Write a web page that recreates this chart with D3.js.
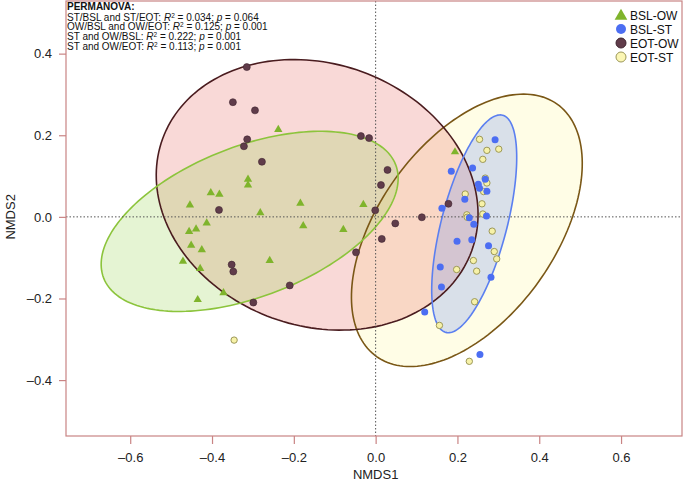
<!DOCTYPE html>
<html>
<head>
<meta charset="utf-8">
<script src="https://cdn.jsdelivr.net/npm/d3@7"></script>
<style>
  body { margin: 0; background: #fff; }
  svg { font-family: "Liberation Sans", Arial, Helvetica, sans-serif; display: block; }
</style>
</head>
<body>
<div id="chart"></div>
<script>
// NMDS scores, one array per group: [NMDS1, NMDS2]
const bslOW = [
  [-0.238, 0.216], [-0.312, 0.094], [-0.312, 0.080], [-0.403, 0.061], [-0.382, 0.057],
  [-0.454, 0.031], [-0.184, 0.035], [-0.030, 0.032], [-0.282, 0.012], [-0.177, -0.020],
  [-0.079, -0.029], [-0.413, -0.013], [-0.439, -0.028], [-0.456, -0.034], [-0.451, -0.068],
  [-0.425, -0.079], [-0.259, -0.105], [-0.471, -0.107], [-0.429, -0.125], [-0.372, -0.184],
  [-0.435, -0.201], [0.194, 0.161]
];
const bslST = [
  [0.292, 0.189], [0.185, 0.112], [0.237, 0.120], [0.268, 0.092], [0.251, 0.080],
  [0.254, 0.070], [0.272, 0.063], [0.218, 0.043], [0.162, 0.021], [0.271, 0.002],
  [0.229, -0.002], [0.240, -0.018], [0.235, -0.056], [0.199, -0.060], [0.276, -0.071],
  [0.158, -0.123], [0.282, -0.148], [0.161, -0.172], [0.120, -0.233], [0.255, -0.337]
];
const eotOW = [
  [-0.315, 0.367], [-0.349, 0.281], [-0.295, 0.261], [-0.314, 0.190], [-0.322, 0.173],
  [-0.278, 0.135], [-0.036, 0.198], [-0.016, 0.193], [0.029, 0.115], [0.013, 0.078],
  [-0.383, 0.017], [-0.001, 0.016], [0.048, -0.016], [0.015, -0.054], [-0.048, -0.087],
  [-0.352, -0.117], [-0.348, -0.134], [-0.210, -0.168], [-0.299, -0.210], [0.113, -0.001],
  [0.178, 0.032]
];
const eotST = [
  [0.254, 0.190], [0.272, 0.163], [0.301, 0.166], [0.262, 0.141], [0.268, 0.095],
  [0.272, 0.083], [0.264, 0.062], [0.219, 0.056], [0.260, 0.032], [0.262, 0.007],
  [0.223, 0.005], [0.224, -0.001], [0.285, -0.035], [0.290, -0.085], [0.296, -0.103],
  [0.239, -0.107], [0.247, -0.133], [0.198, -0.129], [0.242, -0.208], [0.156, -0.266],
  [0.229, -0.354], [-0.346, -0.302]
];

// confidence ellipses: [centre x, centre y, semi-major, semi-minor, angle (deg)]
const ellOW_EOT = [-0.143, 0.054, 0.402, 0.321, -20];
const ellOW_BSL = [-0.308, -0.011, 0.383, 0.184, 21.3];
const ellST_BSL = [0.241, -0.017, 0.275, 0.080, 75.4];
const ellST_EOT = [0.223, -0.033, 0.380, 0.216, 54.5];

const groupNames = ['BSL-OW', 'BSL-ST', 'EOT-OW', 'EOT-ST'];
const xTicks = [-0.6, -0.4, -0.2, 0.0, 0.2, 0.4, 0.6];
const yTicks = [-0.4, -0.2, 0.0, 0.2, 0.4];

const permLabels = ['ST/BSL and ST/EOT', 'OW/BSL and OW/EOT', 'ST and OW/BSL', 'ST and OW/EOT'];
const permR2 = ['0.034', '0.125', '0.222', '0.113'];
const permP = ['0.064', '0.001', '0.001', '0.001'];

const width = 685, height = 484;
const plotL = 66, plotR = 682, plotT = 1, plotB = 436;

const svg = d3.select('#chart').append('svg')
  .attr('width', width)
  .attr('height', height);

const x = d3.scaleLinear().domain([-0.757, 0.749]).range([plotL, plotR]);
const y = d3.scaleLinear().domain([-0.537, 0.529]).range([plotB, plotT]);

const frameColor = '#c98484';

// ellipses
function ellipsePoints(e) {
  const [cx, cy, a, b, deg] = e;
  const th = deg * Math.PI / 180;
  return d3.range(0, 181).map(i => {
    const t = i / 180 * 2 * Math.PI;
    return [
      cx + a * Math.cos(t) * Math.cos(th) - b * Math.sin(t) * Math.sin(th),
      cy + a * Math.cos(t) * Math.sin(th) + b * Math.sin(t) * Math.cos(th)
    ];
  });
}
const ellLine = d3.line().x(d => x(d[0])).y(d => y(d[1])).curve(d3.curveLinearClosed);

const ellipses = [
  { e: ellST_EOT, fill: 'rgba(255,250,200,0.45)', stroke: '#7a5716' },
  { e: ellOW_EOT, fill: 'rgba(235,120,110,0.28)', stroke: '#4a1c1f' },
  { e: ellOW_BSL, fill: 'rgba(150,210,80,0.25)', stroke: '#8cc43c' },
  { e: ellST_BSL, fill: 'rgba(120,150,240,0.28)', stroke: '#5b7ff0' }
];

const gEll = svg.append('g');
ellipses.forEach(d => {
  gEll.append('path')
    .attr('d', ellLine(ellipsePoints(d.e)))
    .attr('fill', d.fill)
    .attr('stroke', 'none');
});
ellipses.forEach(d => {
  gEll.append('path')
    .attr('d', ellLine(ellipsePoints(d.e)))
    .attr('fill', 'none')
    .attr('stroke', d.stroke)
    .attr('stroke-width', 1.6);
});

// zero lines
svg.append('line')
  .attr('x1', x(0)).attr('x2', x(0))
  .attr('y1', plotT).attr('y2', plotB)
  .attr('stroke', '#555').attr('stroke-width', 1)
  .attr('stroke-dasharray', '1.5,2');
svg.append('line')
  .attr('x1', plotL).attr('x2', plotR)
  .attr('y1', y(0)).attr('y2', y(0))
  .attr('stroke', '#555').attr('stroke-width', 1)
  .attr('stroke-dasharray', '1.5,2');

// points
const tri = d3.symbol().type(d3.symbolTriangle).size(30);
const gPts = svg.append('g');
gPts.selectAll('.ow-bsl').data(bslOW).join('path')
  .attr('transform', d => `translate(${x(d[0])},${y(d[1]) + 0.8})`)
  .attr('d', tri)
  .attr('fill', '#7fb42c');
gPts.selectAll('.ow-eot').data(eotOW).join('circle')
  .attr('cx', d => x(d[0])).attr('cy', d => y(d[1])).attr('r', 3.5)
  .attr('fill', '#603c4a').attr('stroke', '#3f2530').attr('stroke-width', 0.6);
gPts.selectAll('.st-eot').data(eotST).join('circle')
  .attr('cx', d => x(d[0])).attr('cy', d => y(d[1])).attr('r', 3.2)
  .attr('fill', '#f7f2a8').attr('stroke', '#9c9858').attr('stroke-width', 1);
gPts.selectAll('.st-bsl').data(bslST).join('circle')
  .attr('cx', d => x(d[0])).attr('cy', d => y(d[1])).attr('r', 3.5)
  .attr('fill', '#4c6ef2');

// frame
svg.append('rect')
  .attr('x', plotL).attr('y', plotT)
  .attr('width', plotR - plotL).attr('height', plotB - plotT)
  .attr('fill', 'none').attr('stroke', frameColor).attr('stroke-width', 1.2);

// axes
const fmt = v => (v < 0 ? '\u2013' : '') + Math.abs(v).toFixed(1);
const xAxis = svg.append('g')
  .attr('transform', `translate(0,${plotB})`)
  .call(d3.axisBottom(x).tickValues(xTicks).tickFormat(fmt).tickSize(8).tickPadding(9));
const yAxis = svg.append('g')
  .attr('transform', `translate(${plotL},0)`)
  .call(d3.axisLeft(y).tickValues(yTicks).tickFormat(fmt).tickSize(7).tickPadding(7));
[xAxis, yAxis].forEach(g => {
  g.select('.domain').remove();
  g.selectAll('line').attr('stroke', frameColor).attr('stroke-width', 1.2);
  g.selectAll('text')
    .attr('fill', '#222')
    .style('font-size', '13px')
    .style('font-family', '"Liberation Sans", Arial, sans-serif');
});

svg.append('text')
  .attr('x', x(0)).attr('y', 479)
  .attr('text-anchor', 'middle')
  .style('font-size', '13px').attr('fill', '#222')
  .text('NMDS1');
svg.append('text')
  .attr('transform', `translate(15,${y(0)}) rotate(-90)`)
  .attr('text-anchor', 'middle')
  .style('font-size', '13px').attr('fill', '#222')
  .text('NMDS2');

// PERMANOVA note
const note = svg.append('g').style('font-size', '10px').attr('fill', '#111');
note.append('text')
  .attr('x', 67).attr('y', 10)
  .style('font-weight', 'bold')
  .text('PERMANOVA:');
permLabels.forEach((lab, i) => {
  const t = note.append('text').attr('x', 67).attr('y', 20.5 + i * 9.7);
  t.append('tspan').text(lab + ': ');
  t.append('tspan').style('font-style', 'italic').text('R');
  t.append('tspan').attr('dy', -3).style('font-size', '6.5px').text('2');
  t.append('tspan').attr('dy', 3).text(' = ' + permR2[i] + '; ');
  t.append('tspan').style('font-style', 'italic').text('p');
  t.append('tspan').text(' = ' + permP[i]);
});

// legend
const legend = svg.append('g').attr('transform', 'translate(621,15)');
const legendStyle = [
  { shape: 'tri', fill: '#7fb42c', stroke: 'none' },
  { shape: 'circle', fill: '#4c6ef2', stroke: 'none' },
  { shape: 'circle', fill: '#603c4a', stroke: '#3f2530' },
  { shape: 'circle', fill: '#fbf6b4', stroke: '#9c9858' }
];
groupNames.forEach((name, i) => {
  const row = legend.append('g').attr('transform', `translate(0,${i * 14})`);
  const s = legendStyle[i];
  if (s.shape === 'tri') {
    row.append('path')
      .attr('d', d3.symbol().type(d3.symbolTriangle).size(70)())
      .attr('transform', 'translate(0,1)')
      .attr('fill', s.fill);
  } else {
    row.append('circle').attr('r', 5)
      .attr('fill', s.fill).attr('stroke', s.stroke).attr('stroke-width', 1);
  }
  row.append('text')
    .attr('x', 9).attr('y', 4.5)
    .style('font-size', '12px').attr('fill', '#111')
    .text(name);
});
</script>
</body>
</html>
